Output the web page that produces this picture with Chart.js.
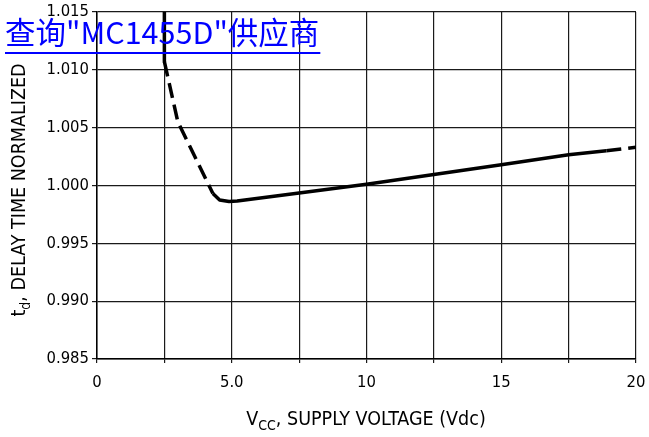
<!DOCTYPE html>
<html>
<head>
<meta charset="utf-8">
<script src="https://cdn.jsdelivr.net/npm/chart.js@4"></script>
<style>
  body { margin: 0; background: #fff; }
  canvas { display: block; }
</style>
</head>
<body>
<canvas id="delayChart" width="649" height="437"></canvas>
<script>
// curve: supply voltage (Vdc) vs normalized delay time
const supplyVoltage = [2.5, 2.5, 3.0, 4.3, 4.55, 4.9, 5.2, 7.5, 10, 12.5, 15, 17.5, 18.9, 20];
const delayNormalized = [1.015, 1.0107, 1.0055, 0.9993, 0.99875, 0.99862, 0.99866, 0.99935, 1.0001, 1.00095, 1.0018, 1.00265, 1.0030, 1.0033];
// segments (by start index) drawn dashed
const dashedSegments = [1, 2, 12];

const xTickValues = [0, 5, 10, 15, 20];
const xTickText = ['0', '5.0', '10', '15', '20'];

const xTitleMain = 'V';
const xTitleSub = 'CC';
const xTitleRest = ', SUPPLY VOLTAGE (Vdc)';
const yTitleMain = 't';
const yTitleSub = 'd';
const yTitleRest = ', DELAY TIME NORMALIZED';
const watermarkText = '查询"MC1455D"供应商';

const points = supplyVoltage.map((v, i) => ({ x: v, y: delayNormalized[i] }));
const condensed = '"DejaVu Sans Condensed", "Liberation Sans", sans-serif';
const titleFont = '19.5px ' + condensed;
const subFont = '14px ' + condensed;

// axis titles with subscripts + the blue link text on top
const extrasPlugin = {
  id: 'extras',
  afterDraw(chart) {
    const ctx = chart.ctx;
    ctx.save();
    ctx.fillStyle = '#000';
    ctx.textBaseline = 'alphabetic';

    // x title
    ctx.font = titleFont;
    const w1 = ctx.measureText(xTitleMain).width;
    const w3 = ctx.measureText(xTitleRest).width;
    ctx.font = subFont;
    const w2 = ctx.measureText(xTitleSub).width;
    let x = 366 - (w1 + w2 + w3) / 2;
    const base = 425;
    ctx.textAlign = 'left';
    ctx.font = titleFont;
    ctx.fillText(xTitleMain, x, base);
    ctx.font = subFont;
    ctx.fillText(xTitleSub, x + w1, base + 5);
    ctx.font = titleFont;
    ctx.fillText(xTitleRest, x + w1 + w2, base);

    // y title, rotated
    ctx.translate(25, 190);
    ctx.rotate(-Math.PI / 2);
    ctx.font = titleFont;
    const v1 = ctx.measureText(yTitleMain).width;
    const v3 = ctx.measureText(yTitleRest).width;
    ctx.font = subFont;
    const v2 = ctx.measureText(yTitleSub).width;
    let y = -(v1 + v2 + v3) / 2;
    ctx.font = titleFont;
    ctx.fillText(yTitleMain, y, 0);
    ctx.font = subFont;
    ctx.fillText(yTitleSub, y + v1, 5);
    ctx.font = titleFont;
    ctx.fillText(yTitleRest, y + v1 + v2, 0);
    ctx.restore();

    // watermark link
    ctx.save();
    ctx.fillStyle = '#0000ff';
    ctx.font = '30.5px "Noto Sans CJK SC", sans-serif';
    ctx.textAlign = 'left';
    ctx.textBaseline = 'alphabetic';
    ctx.fillText(watermarkText, 5, 44);
    const ww = ctx.measureText(watermarkText).width;
    ctx.fillRect(5, 52, ww + 1, 2);
    ctx.restore();
  }
};

new Chart('delayChart', {
  type: 'line',
  data: {
    datasets: [{
      data: points,
      borderColor: '#000',
      borderWidth: 3.5,
      pointRadius: 0,
      tension: 0,
      fill: false,
      borderJoinStyle: 'round',
      segment: {
        borderDash: ctx => dashedSegments.includes(ctx.p0DataIndex) ? [15, 7] : undefined
      }
    }]
  },
  options: {
    responsive: false,
    animation: false,
    devicePixelRatio: 1,
    layout: { padding: { top: 12, right: 13, left: 0, bottom: 0 } },
    plugins: {
      legend: { display: false },
      tooltip: { enabled: false }
    },
    scales: {
      x: {
        type: 'linear',
        min: 0,
        max: 20,
        ticks: {
          stepSize: 2.5,
          autoSkip: false,
          maxRotation: 0,
          color: '#000',
          padding: 10,
          font: { family: condensed, size: 16.5 },
          callback: v => {
            const i = xTickValues.indexOf(v);
            return i >= 0 ? xTickText[i] : '';
          }
        },
        grid: { color: '#1a1a1a', lineWidth: 1.2, tickLength: 4 },
        border: { color: '#000', width: 1.5 },
        afterFit: scale => {
          scale.height = 78;
          scale.paddingLeft = 0;
          scale.paddingRight = 0;
        }
      },
      y: {
        min: 0.985,
        max: 1.015,
        ticks: {
          stepSize: 0.005,
          color: '#000',
          padding: 3,
          font: { family: condensed, size: 16.5 },
          callback: v => v.toFixed(3)
        },
        grid: { color: '#1a1a1a', lineWidth: 1.2, tickLength: 5 },
        border: { color: '#000', width: 1.5 },
        afterFit: scale => {
          scale.width = 97;
          scale.paddingTop = 0;
          scale.paddingBottom = 0;
        }
      }
    }
  },
  plugins: [extrasPlugin]
});
</script>
</body>
</html>
